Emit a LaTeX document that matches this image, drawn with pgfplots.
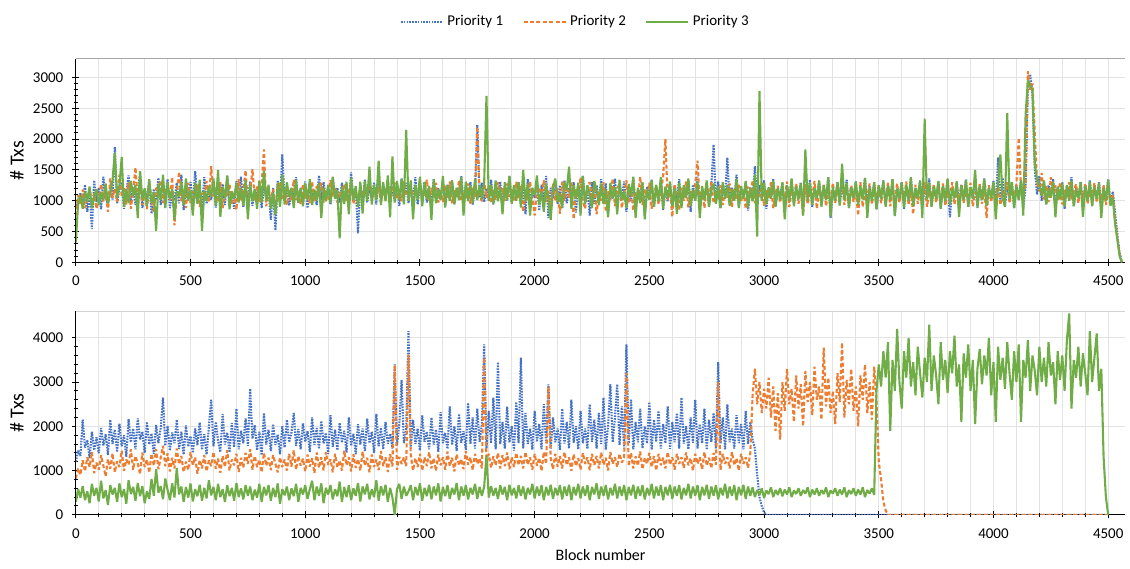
\documentclass[border=0pt]{standalone}
\usepackage{fontspec}
\setmainfont{Carlito}
\usepackage{pgfplots}
\pgfplotsset{compat=1.18}
\usepackage{pgfplotstable}

\definecolor{pone}{HTML}{4472C4}
\definecolor{ptwo}{HTML}{ED7D31}
\definecolor{pthree}{HTML}{70AD47}

% priority 1 / 2 / 3, top chart
\pgfplotstableread{
x b o g
0 880 760 320
10 1010 1090 960
20 1120 930 1080
30 940 1180 870
40 1260 880 1150
50 820 1030 990
60 1150 1210 1230
70 540 960 880
80 1330 1120 1060
90 980 870 1190
100 1210 1020 930
110 860 1270 1140
120 1390 990 1010
130 1070 1150 1280
140 910 820 960
150 1240 1360 1120
160 1020 1050 1330
170 1870 1190 1780
180 960 980 1040
190 1180 1420 1240
200 1300 1080 1710
210 870 1210 900
220 1150 940 1190
230 1410 1300 960
240 990 870 1320
250 1220 1160 1080
260 930 1540 1260
270 1080 1010 720
280 1450 1250 1480
290 880 930 1020
300 1170 1190 1200
310 1040 860 910
320 1320 1280 1350
330 790 1050 960
340 1190 820 1140
350 1010 1210 510
360 1370 1100 1280
370 930 1330 1010
380 1240 960 1420
390 1060 1140 880
400 1350 1230 1300
410 880 1010 1030
420 1130 1380 1190
430 1010 600 690
440 1290 1120 1150
450 960 1470 1070
460 1420 990 1310
470 850 1180 930
480 1160 880 1360
490 1000 1290 1010
500 1300 960 1170
510 910 1150 760
520 1480 1040 1290
530 1060 1260 950
540 1190 900 1340
550 870 1130 510
560 1380 1020 1160
570 950 1320 1000
580 1110 970 1240
590 1020 1560 1060
600 1290 1070 1360
610 890 1210 920
620 1140 980 1500
630 1060 1300 740
640 1270 880 1220
650 930 1160 1050
660 1400 1060 1410
670 1030 1270 860
680 1160 950 1150
690 870 1140 1030
700 1320 850 1290
710 1010 1350 970
720 1390 1000 1210
730 900 1170 920
740 1220 1490 1340
750 1040 940 700
760 1310 1160 1260
770 920 1510 990
780 1180 1010 1190
790 1070 1230 870
800 1290 980 1330
810 880 1270 970
820 1240 1830 1490
830 1030 910 1000
840 1170 1120 1260
850 690 1010 870
860 1210 1190 1130
870 520 940 770
880 1330 1060 1290
890 960 1290 900
900 1750 1010 1420
910 1010 1220 940
920 1230 930 1300
930 920 1170 1060
940 1190 1000 1210
950 1070 1340 880
960 1380 1010 1340
970 960 1150 970
980 1210 940 1200
990 990 1270 910
1000 1310 1040 1280
1010 880 1170 1010
1020 1260 960 1350
1030 1050 1310 930
1040 1170 990 1180
1050 930 1240 1010
1060 1410 1060 1290
1070 1010 1290 720
1080 1300 970 1210
1090 1060 1160 990
1100 1190 1010 1260
1110 940 1330 960
1120 1370 1070 1390
1130 1040 1210 1030
1140 1210 970 1170
1150 970 1140 390
1160 1290 1060 1240
1170 1030 1270 950
1180 1170 990 1310
1190 930 1160 780
1200 1460 1290 1370
1210 1010 950 1010
1220 1190 1140 1240
1230 470 1010 900
1240 1260 1200 1310
1250 990 1090 790
1260 1340 1240 1320
1270 970 1040 1000
1280 1210 1310 1550
1290 1040 990 940
1300 1290 1160 1260
1310 940 1040 1010
1320 1410 1220 1650
1330 1010 970 930
1340 1190 1190 1300
1350 1060 1010 990
1360 1340 1310 1410
1370 950 990 730
1380 1240 1160 1720
1390 990 1290 970
1400 1270 1030 1320
1410 920 1190 1010
1420 1360 990 1350
1430 1030 1310 940
1440 1290 1090 2150
1450 960 1060 1000
1460 1230 1260 1330
1470 1000 980 700
1480 1380 1210 1260
1490 940 1050 1010
1500 1250 1320 1390
1510 1010 960 910
1520 1310 1160 1300
1530 970 1340 1020
1540 1190 990 1240
1550 880 1210 690
1560 1350 1040 1350
1570 1010 1290 960
1580 1200 970 1190
1590 1060 1160 1010
1600 1310 980 1400
1610 920 1250 890
1620 1260 1050 1250
1630 1010 1310 1000
1640 1330 960 1330
1650 950 1190 940
1660 1200 1060 1210
1670 1060 1320 1010
1680 1400 1010 1380
1690 980 1140 760
1700 1250 1040 1310
1710 1010 1280 990
1720 1300 950 1250
1730 940 1210 960
1740 1190 1050 1350
1750 2230 2200 1010
1760 1050 1100 1250
1770 1290 990 1020
1780 980 1300 1300
1790 1200 1050 2700
1800 1010 1250 1000
1810 1340 960 1250
1820 940 1180 950
1830 1200 1010 1330
1840 1060 1300 990
1850 1310 1040 1210
1860 930 1200 780
1870 1240 1000 1300
1880 1000 1280 1010
1890 1400 1060 1400
1900 970 1200 950
1910 1210 990 1250
1920 1050 1310 1000
1930 1300 1040 1300
1940 950 1250 890
1950 1240 820 1500
1960 780 1160 990
1970 1350 990 1280
1980 960 1310 760
1990 1200 1040 1210
2000 1050 760 1090
2010 1300 1190 1410
2020 840 1210 940
2030 1260 1060 1150
2040 1010 1330 820
2050 1400 980 1280
2060 720 1160 1030
2070 1210 870 690
2080 1040 1280 1210
2090 1310 1010 1360
2100 950 1200 980
2110 1250 790 1120
2120 880 1310 880
2130 1330 1000 1300
2140 960 1230 1180
2150 1200 1050 1550
2160 1050 1300 870
2170 1300 700 1250
2180 810 1180 1030
2190 1250 1050 1290
2200 1000 1380 760
2210 1400 1000 1400
2220 980 870 950
2230 1200 1250 1250
2240 760 1300 1100
2250 1300 1000 880
2260 950 1250 1320
2270 1250 780 1170
2280 1000 1150 930
2290 1350 1000 1280
2300 960 1300 950
2310 1280 820 1180
2320 790 1150 730
2330 1150 1010 1290
2340 1030 1360 1040
2350 1360 910 1220
2360 870 1190 780
2370 1190 1280 1340
2380 1040 880 1010
2390 1310 1110 1150
2400 820 1330 880
2410 1220 960 1270
2420 990 1210 1080
2430 1380 840 1390
2440 900 1150 720
2450 1170 1020 1210
2460 1070 1390 960
2470 1290 930 1300
2480 760 1180 700
2490 1230 1060 1180
2500 1010 1290 1020
2510 1340 870 1330
2520 900 1130 900
2530 1160 1240 1260
2540 1040 940 990
2550 1330 1120 1380
2560 850 1400 870
2570 1210 2000 1230
2580 990 1010 1050
2590 1300 1190 1310
2600 880 740 910
2610 1250 1270 1200
2620 1020 1030 790
2630 1350 850 1290
2640 940 1210 880
2650 1190 1000 1250
2660 1080 1310 1040
2670 1320 890 1360
2680 820 1150 920
2690 1260 1040 1180
2700 1000 1280 1000
2710 1390 1650 1310
2720 890 960 720
2730 1180 1180 1240
2740 1060 880 1010
2750 1300 1250 1330
2760 910 1020 900
2770 1240 1300 1160
2780 1910 960 1280
2790 970 1140 950
2800 1310 1010 1230
2810 880 1250 880
2820 1250 930 1300
2830 1050 1180 1030
2840 1700 1050 1260
2850 950 1280 920
2860 1210 900 1190
2870 1020 1200 1000
2880 1420 1020 1350
2890 900 1260 880
2900 1180 980 1240
2910 1060 1180 1030
2920 1300 870 1320
2930 840 1230 890
2940 1220 1050 1200
2950 1000 1330 990
2960 1560 960 1420
2970 930 1150 420
2980 1250 1060 2780
2990 1020 1290 1000
3000 1330 920 1290
3010 870 1170 940
3020 1210 1030 1220
3030 1040 1300 1030
3040 1360 880 1330
3050 910 1120 900
3060 1180 1240 1210
3070 1080 970 1010
3080 1290 1200 1300
3090 820 1040 700
3100 1240 1310 1250
3110 1010 900 1000
3120 1350 1150 1360
3130 950 1050 910
3140 1190 1280 1240
3150 1060 950 1020
3160 1300 1190 1280
3170 880 760 760
3180 1230 1270 1830
3190 1020 940 1000
3200 1340 1150 1290
3210 900 1050 930
3220 1200 1320 1200
3230 1050 870 1040
3240 1310 1180 1330
3250 930 1040 900
3260 1220 1260 1250
3270 1060 910 1010
3280 1380 1140 1380
3290 720 1030 740
3300 1180 1290 1220
3310 1000 960 1000
3320 1300 1200 1300
3330 940 1050 920
3340 1250 1330 1600
3350 1030 930 1010
3360 1340 1160 1290
3370 880 1040 880
3380 1210 1250 1220
3390 1050 980 1040
3400 1310 1190 1310
3410 920 760 930
3420 1190 1300 1240
3430 1070 900 1020
3440 1370 1150 1370
3450 890 1060 720
3460 1240 1280 1210
3470 1010 940 1000
3480 1300 1170 1300
3490 860 1030 860
3500 1200 1260 1250
3510 1050 960 1030
3520 1330 1190 1320
3530 930 1000 900
3540 1260 1290 1240
3550 1020 910 1010
3560 1350 1140 1350
3570 760 1050 750
3580 1190 1280 1200
3590 1060 970 1030
3600 1300 1200 1300
3610 870 1040 890
3620 1240 1310 1260
3630 1010 930 1000
3640 1370 1160 1380
3650 930 780 910
3660 1200 1260 1210
3670 1070 950 1040
3680 1320 1180 1330
3690 880 1040 720
3700 1250 1300 2330
3710 1030 900 1020
3720 1360 1140 1290
3730 910 1060 900
3740 1210 1270 1230
3750 1050 970 1030
3760 1300 1190 1320
3770 870 1010 870
3780 1240 1280 1240
3790 1010 920 990
3800 1350 1150 1360
3810 730 1050 930
3820 1190 1300 1200
3830 1060 940 1040
3840 1310 1170 1310
3850 890 1020 740
3860 1260 1260 1250
3870 1020 960 1010
3880 1340 1190 1340
3890 900 1030 900
3900 1210 1290 1220
3910 1050 910 1030
3920 1300 1140 1500
3930 880 1060 890
3940 1250 1270 1240
3950 1020 950 1010
3960 1360 1180 1350
3970 920 720 920
3980 1200 1250 1210
3990 1060 980 1040
4000 1320 1200 1300
4010 870 1010 700
4020 1700 1280 1260
4030 1010 930 1750
4040 1370 1160 1040
4050 910 1060 900
4060 1230 1300 2420
4070 1050 960 1020
4080 1300 1180 1300
4090 880 1040 880
4100 1250 1270 1240
4110 1020 2020 1010
4120 1340 1190 1330
4130 900 1030 760
4140 1210 1290 2400
4150 2850 3100 2950
4160 3050 2800 2850
4170 2700 2900 2800
4180 1500 2100 1600
4190 1100 1300 1350
4200 1400 1150 1250
4210 1000 1450 1080
4220 1300 1020 1330
4230 950 1250 940
4240 1250 980 1200
4250 1080 1380 1050
4260 1350 1100 1310
4270 900 1250 730
4280 1220 1000 1230
4290 1050 1300 1020
4300 1300 940 1280
4310 870 1180 900
4320 1240 1050 1250
4330 1030 1300 1000
4340 1380 1020 1330
4350 910 1150 910
4360 1200 1270 1180
4370 1060 960 1040
4380 1310 1200 1300
4390 880 1050 740
4400 1250 1280 1240
4410 1000 950 1000
4420 1330 1160 1310
4430 920 1040 910
4440 1210 1290 1230
4450 1050 970 1030
4460 1300 1190 1290
4470 870 1010 720
4480 1240 1250 1200
4490 1010 930 1000
4500 1350 1150 1340
4510 930 1050 920
4520 1150 1100 1050
4530 800 700 620
4540 450 400 370
4550 150 120 100
4560 0 0 0
}\toptable

% priority 1 / 2 / 3, bottom chart
\pgfplotstableread{
x b o g
0 1200 820 290
10 1450 1050 580
20 1330 900 390
30 2150 1230 650
40 1520 980 330
50 1690 1300 530
60 1280 1080 260
70 1880 1420 700
80 1460 940 430
90 1750 1180 610
100 1390 1020 300
110 1960 1350 770
120 1570 1110 370
130 1820 870 560
140 1350 1260 220
150 2150 1040 670
160 1600 1390 460
170 1930 960 610
180 1420 1210 290
190 2060 1080 710
200 1550 1450 400
210 1800 990 580
220 1310 1250 250
230 2160 1130 780
240 1640 1480 470
250 1950 1020 630
260 1480 1330 320
270 2180 1160 720
280 1700 920 420
290 1880 1410 650
300 1400 1080 260
310 2100 1250 530
320 1590 950 360
330 1840 1380 810
340 1380 1110 430
350 2030 1480 1030
360 1620 1030 500
370 1960 1290 650
380 2650 1560 350
390 1560 1100 820
400 2010 1390 560
410 1450 980 330
420 1860 1290 710
430 1620 1050 390
440 2150 1500 1060
450 1490 1140 460
460 1880 1330 640
470 1360 970 290
480 2020 1200 630
490 1540 1010 390
500 1780 1420 710
510 1400 1120 300
520 1950 1300 580
530 1570 930 420
540 2090 1240 680
550 1470 1050 320
560 1820 1350 610
570 1360 980 370
580 1990 1230 780
590 2600 1100 440
600 1550 1420 630
610 2100 1040 330
620 1670 1270 700
630 1420 950 400
640 2280 1330 580
650 1590 1080 290
660 1860 1460 670
670 1410 1000 420
680 2070 1250 610
690 1530 1120 320
700 2400 1380 720
710 1480 970 400
720 1900 1290 600
730 1620 1060 350
740 2180 1400 670
750 1560 1150 430
760 2850 1480 640
770 1720 1020 330
780 2030 1330 570
790 1460 1080 390
800 1880 1250 700
810 1350 960 290
820 2300 1400 630
830 1590 1110 440
840 1920 1290 670
850 1440 1010 320
860 2050 1350 610
870 1580 1150 400
880 1810 960 710
890 1370 1300 250
900 2000 1080 580
910 1520 1250 440
920 2150 1000 640
930 1640 1380 330
940 1860 1090 600
950 2300 1460 420
960 1560 1020 700
970 1940 1330 290
980 1480 1110 610
990 2070 1270 460
1000 1650 980 670
1010 1890 1360 360
1020 1420 1090 580
1030 2200 1280 770
1040 1580 940 330
1050 1960 1410 640
1060 1490 1060 430
1070 2120 1300 710
1080 1610 1000 260
1090 1850 1420 610
1100 1380 1130 460
1110 2250 1260 670
1120 1540 960 350
1130 1920 1380 580
1140 1460 1070 420
1150 2080 1230 750
1160 1630 1000 290
1170 1900 1450 630
1180 1410 1120 400
1190 2200 1300 670
1200 1560 980 330
1210 1830 1370 600
1220 1370 1060 430
1230 2050 1260 720
1240 1590 1000 300
1250 1950 1430 640
1260 1440 1110 460
1270 2170 1290 700
1280 1620 960 350
1290 1880 1360 580
1300 1400 1080 400
1310 2280 1250 780
1320 1550 1010 320
1330 1970 1440 650
1340 1480 1100 440
1350 2100 1300 680
1360 1610 970 290
1370 1830 1370 610
1380 1500 1090 390
1390 3400 3380 0
1400 1580 1020 580
1410 2040 1310 700
1420 3050 1150 360
1430 1620 1300 640
1440 1900 1100 430
1450 4150 3620 530
1460 1500 1350 670
1470 2150 1000 330
1480 1600 1280 630
1490 1950 1080 440
1500 1450 1380 710
1510 2250 1000 320
1520 1650 1300 610
1530 1880 1100 420
1540 1480 1420 680
1550 2200 1050 350
1560 1590 1280 640
1570 1930 990 440
1580 1420 1360 710
1590 2320 1120 300
1600 1620 1300 630
1610 1850 1020 420
1620 1490 1430 670
1630 2450 1100 360
1640 1580 1290 610
1650 2000 980 460
1660 1440 1370 720
1670 2280 1120 330
1680 1630 1260 640
1690 1890 1030 430
1700 1470 1440 670
1710 2530 1130 350
1720 1600 1300 610
1730 2200 1010 460
1740 1500 1380 700
1750 2400 1150 360
1760 1650 1280 630
1770 2050 1050 430
1780 3850 3550 640
1790 1500 1200 1340
1800 2350 1380 390
1810 1620 1060 650
1820 2650 1320 430
1830 1480 1120 610
1840 3450 1400 360
1850 1600 1050 670
1860 2100 1350 460
1870 1500 1100 630
1880 2450 1410 330
1890 1630 1030 680
1900 2000 1300 440
1910 1450 1080 610
1920 2550 1400 370
1930 1620 1120 670
1940 3550 1330 430
1950 1500 1050 640
1960 2300 1420 350
1970 1600 1130 610
1980 1950 1300 460
1990 1470 1020 700
2000 2350 1380 370
2010 1650 1110 640
2020 2050 1290 430
2030 1480 990 670
2040 2500 1420 330
2050 1620 1150 630
2060 2950 2900 440
2070 1500 1280 680
2080 2200 1030 360
2090 1640 1380 610
2100 1950 1090 440
2110 1470 1330 670
2120 2400 1050 350
2130 1610 1420 640
2140 2100 1120 430
2150 1500 1300 680
2160 2600 990 330
2170 1630 1370 630
2180 2000 1100 440
2190 1480 1280 700
2200 2350 1020 370
2210 1620 1400 640
2220 1950 1150 430
2230 1490 1300 670
2240 2500 1010 330
2250 1650 1380 630
2260 2150 1120 460
2270 1500 1330 710
2280 2300 1050 360
2290 1600 1410 640
2300 2650 1130 430
2310 1470 1290 670
2320 2000 1000 350
2330 2950 1420 610
2340 1640 1150 440
2350 2200 1300 700
2360 2950 1080 370
2370 1580 1380 640
2380 2450 1180 430
2390 1500 1300 670
2400 3850 3200 330
2410 1620 1100 630
2420 2600 1400 440
2430 1480 1050 680
2440 2100 1320 360
2450 1640 1110 640
2460 2400 1430 430
2470 1500 1030 670
2480 2000 1290 350
2490 1610 1150 610
2500 2550 1400 440
2510 1470 1080 700
2520 2150 1330 370
2530 1650 1000 640
2540 2350 1380 430
2550 1500 1120 670
2560 2050 1290 330
2570 1620 1050 630
2580 2450 1420 440
2590 1490 1130 680
2600 2100 1300 360
2610 1640 1020 640
2620 2300 1380 430
2630 1500 1150 670
2640 2650 1300 350
2650 1610 1060 610
2660 2000 1410 440
2670 1480 1120 700
2680 2200 1280 370
2690 1630 1000 640
2700 2600 1380 430
2710 1500 1150 670
2720 2050 1300 330
2730 1620 1030 630
2740 2400 1420 440
2750 1470 1110 680
2760 2150 1290 360
2770 1650 1050 640
2780 2300 1400 430
2790 1500 1130 670
2800 3450 3000 350
2810 1610 1010 610
2820 2200 1380 440
2830 1480 1150 700
2840 2500 1300 370
2850 1640 1050 640
2860 1950 1420 430
2870 1500 1120 670
2880 2250 1280 330
2890 1620 1000 630
2900 2050 1380 440
2910 1480 1150 680
2920 2350 1300 360
2930 1600 1060 640
2940 2100 1400 430
2950 1700 2700 620
2960 1500 3300 400
2970 900 2500 560
2980 400 3000 450
2990 200 2300 600
3000 50 2850 380
3010 0 2400 550
3020 0 3100 470
3030 0 2200 620
3040 0 2900 400
3050 0 1900 560
3060 0 2750 450
3070 0 1700 600
3080 0 3000 420
3090 0 2350 570
3100 0 3300 460
3110 0 2500 620
3120 0 2850 400
3130 0 2100 550
3140 0 3150 470
3150 0 2400 600
3160 0 2950 430
3170 0 2000 560
3180 0 3250 480
3190 0 2550 620
3200 0 3000 400
3210 0 2250 570
3220 0 3350 460
3230 0 2600 600
3240 0 2900 430
3250 0 2150 560
3260 0 3780 470
3270 0 2450 620
3280 0 3100 400
3290 0 2300 550
3300 0 2800 480
3310 0 2050 600
3320 0 3200 430
3330 0 2550 570
3340 0 3890 460
3350 0 2200 620
3360 0 3050 400
3370 0 2500 560
3380 0 3300 470
3390 0 2350 600
3400 0 2900 430
3410 0 2000 570
3420 0 3150 460
3430 0 2600 620
3440 0 3400 400
3450 0 2300 560
3460 0 3000 480
3470 0 2150 600
3480 0 3350 450
3490 0 2600 2800
3500 0 1200 3400
3510 0 800 2900
3520 0 300 3700
3530 0 100 3100
3540 0 0 3900
3550 0 0 1900
3560 0 0 3500
3570 0 0 2800
3580 0 0 4200
3590 0 0 3000
3600 0 0 2400
3610 0 0 3700
3620 0 0 3100
3630 0 0 4000
3640 0 0 2900
3650 0 0 3450
3660 0 0 2700
3670 0 0 3800
3680 0 0 3200
3690 0 0 2650
3700 0 0 3550
3710 0 0 3000
3720 0 0 4300
3730 0 0 2800
3740 0 0 3600
3750 0 0 3150
3760 0 0 2500
3770 0 0 3900
3780 0 0 3050
3790 0 0 3500
3800 0 0 2750
3810 0 0 3700
3820 0 0 3200
3830 0 0 4050
3840 0 0 2900
3850 0 0 3400
3860 0 0 2100
3870 0 0 3650
3880 0 0 3100
3890 0 0 3850
3900 0 0 2800
3910 0 0 3500
3920 0 0 2050
3930 0 0 3300
3940 0 0 3750
3950 0 0 2950
3960 0 0 3600
3970 0 0 3150
3980 0 0 4000
3990 0 0 2700
4000 0 0 3450
4010 0 0 2100
4020 0 0 3800
4030 0 0 3050
4040 0 0 3550
4050 0 0 2850
4060 0 0 3900
4070 0 0 3200
4080 0 0 2600
4090 0 0 3700
4100 0 0 3000
4110 0 0 3850
4120 0 0 2100
4130 0 0 3500
4140 0 0 3100
4150 0 0 3950
4160 0 0 2800
4170 0 0 3600
4180 0 0 3250
4190 0 0 2700
4200 0 0 3800
4210 0 0 3000
4220 0 0 3550
4230 0 0 2900
4240 0 0 3900
4250 0 0 3150
4260 0 0 3450
4270 0 0 2500
4280 0 0 3700
4290 0 0 3050
4300 0 0 3600
4310 0 0 2800
4320 0 0 3950
4330 0 0 4550
4340 0 0 2400
4350 0 0 3500
4360 0 0 3100
4370 0 0 3800
4380 0 0 2900
4390 0 0 3650
4400 0 0 3200
4410 0 0 2700
4420 0 0 4150
4430 0 0 3000
4440 0 0 3550
4450 0 0 4100
4460 0 0 2800
4470 0 0 3300
4480 0 0 1300
4490 0 0 400
4500 0 0 0
}\bottable

\pgfplotsset{
  txs/.style={
    scale only axis,
    width=526pt, height=102pt,
    xmin=0, xmax=4575, ymin=0,
    xtick={0,500,...,4500},
    minor x tick num=4,
    minor y tick num=4,
    axis x line*=bottom, axis y line*=left,
    axis line style={black, line width=0.6pt},
    tick align=center,
    major tick length=3.5pt, minor tick length=2pt,
    every tick/.style={black, line width=0.5pt},
    xmajorgrids, xminorgrids,
    grid style={gray!22, line width=0.4pt},
    minor grid style={gray!22, line width=0.4pt},
    ticklabel style={font=\fontsize{7.5}{9}\selectfont},
    xticklabel style={yshift=-1.5pt},
    yticklabel style={xshift=-1pt},
    /pgf/number format/assume math mode=true,
    /pgf/number format/1000 sep={},
    ylabel={\# Txs},
    ylabel style={font=\fontsize{8.5}{10}\selectfont},
    every axis y label/.style={at={(rel axis cs:0,0.5)}, xshift=-29.5pt, rotate=90, anchor=center},
    every axis plot/.append style={line width=1.05pt, line join=bevel},
    legend image code/.code={\draw[##1, line width=0.6pt] (0pt,0pt) -- (21pt,0pt);},
  },
  p1/.style={color=pone, dash pattern=on 0.8pt off 0.6pt},
  p2/.style={color=ptwo, dash pattern=on 2pt off 1.2pt},
  p3/.style={color=pthree},
}

\begin{document}
\begin{tikzpicture}
\path (-38pt,-27pt) rectangle (527pt,258pt);

\begin{axis}[txs, at={(0,126.5pt)},
    ymax=3300, ytick={0,500,...,3000}, ymajorgrids,
    legend columns=3,
    legend style={at={(0.477,1.181)}, anchor=center, draw=none, fill=none,
      font=\fontsize{7.5}{9}\selectfont,
      /tikz/every even column/.append style={column sep=8pt}},
    after end axis/.code={\draw[gray!70, line width=0.6pt] (rel axis cs:0,1) -- (rel axis cs:1,1);},
  ]
\addplot[p1] table[x=x, y=b] {\toptable};
\addplot[p2] table[x=x, y=o] {\toptable};
\addplot[p3] table[x=x, y=g] {\toptable};
\legend{Priority 1, Priority 2, Priority 3}
\end{axis}

\begin{axis}[txs, at={(0,0)},
    ymax=4600, ytick={0,1000,...,4000},
    extra y ticks={2000,4000}, extra y tick labels={},
    extra y tick style={grid=major, major tick length=0pt},
    xlabel={Block number},
    xlabel style={font=\fontsize{8}{10}\selectfont, yshift=1pt},
    after end axis/.code={\draw[gray!35, line width=0.6pt] (rel axis cs:0,1) -- (rel axis cs:1,1);},
  ]
\addplot[p1] table[x=x, y=b] {\bottable};
\addplot[p2] table[x=x, y=o] {\bottable};
\addplot[p3] table[x=x, y=g] {\bottable};
\end{axis}
\end{tikzpicture}
\end{document}
